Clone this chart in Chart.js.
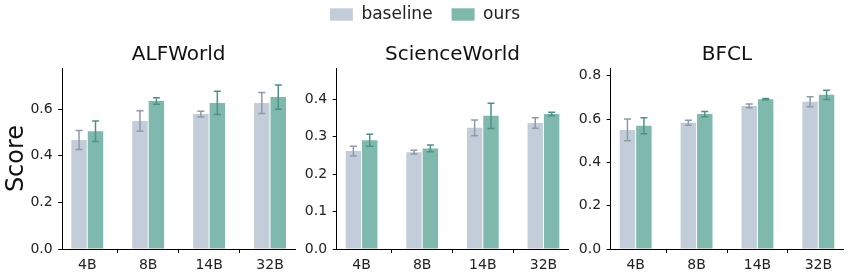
<!DOCTYPE html>
<html>
<head>
<meta charset="utf-8">
<script src="https://cdn.jsdelivr.net/npm/chart.js@4"></script>
<style>
  html, body { margin: 0; padding: 0; background: #ffffff; }
  #wrap { position: relative; width: 850px; height: 277px; overflow: hidden; background: #ffffff; }
  #wrap canvas { position: absolute; left: 0; top: 0; }
</style>
</head>
<body>
<div id="wrap">
  <canvas id="c1" width="850" height="277"></canvas>
  <canvas id="c2" width="850" height="277"></canvas>
  <canvas id="c3" width="850" height="277"></canvas>
  <canvas id="leg" width="850" height="120" style="top:-13px"></canvas>
</div>
<script>
// ---- data ----
const categories = ['4B', '8B', '14B', '32B'];
const seriesNames = ['baseline', 'ours'];
const panelTitles = ['ALFWorld', 'ScienceWorld', 'BFCL'];

const alfBaseline    = [0.468, 0.549, 0.579, 0.627];
const alfBaselineErr = [0.041, 0.044, 0.012, 0.045];
const alfOurs        = [0.506, 0.635, 0.627, 0.652];
const alfOursErr     = [0.044, 0.014, 0.050, 0.052];

const sciBaseline    = [0.262, 0.259, 0.324, 0.337];
const sciBaselineErr = [0.013, 0.005, 0.021, 0.014];
const sciOurs        = [0.291, 0.269, 0.356, 0.361];
const sciOursErr     = [0.016, 0.009, 0.034, 0.005];

const bfclBaseline    = [0.550, 0.583, 0.661, 0.680];
const bfclBaselineErr = [0.050, 0.012, 0.009, 0.023];
const bfclOurs        = [0.569, 0.623, 0.692, 0.712];
const bfclOursErr     = [0.037, 0.012, 0.003, 0.021];

const alfTicks  = [0.0, 0.2, 0.4, 0.6];
const sciTicks  = [0.0, 0.1, 0.2, 0.3, 0.4];
const bfclTicks = [0.0, 0.2, 0.4, 0.6, 0.8];

// ---- styling ----
const FONT = 'DejaVu Sans';
Chart.defaults.font.family = FONT;
Chart.defaults.color = '#222222';
const baseColor = '#c3cdd9';
const oursColor = '#7fb8ad';
const baseErrColor = '#8d9aab';
const oursErrColor = '#4d9385';

const errorBarPlugin = {
  id: 'errorBars',
  afterDatasetsDraw(chart) {
    const ctx = chart.ctx;
    const yScale = chart.scales.y;
    chart.data.datasets.forEach((ds, di) => {
      if (!ds.errors) return;
      const meta = chart.getDatasetMeta(di);
      ctx.save();
      ctx.strokeStyle = ds.errorColor;
      ctx.lineWidth = 1.5;
      meta.data.forEach((bar, i) => {
        const v = ds.data[i].y;
        const e = ds.errors[i];
        const yTop = yScale.getPixelForValue(v + e);
        const yBot = yScale.getPixelForValue(v - e);
        const x = bar.x;
        ctx.beginPath();
        ctx.moveTo(x, yTop); ctx.lineTo(x, yBot);
        ctx.moveTo(x - 3.5, yTop); ctx.lineTo(x + 3.5, yTop);
        ctx.moveTo(x - 3.5, yBot); ctx.lineTo(x + 3.5, yBot);
        ctx.stroke();
      });
      ctx.restore();
    });
  }
};

function toPoints(vals) { return vals.map((v, i) => ({ x: i, y: v })); }

function makePanel(id, title, base, baseErr, ours, oursErr, ymax, tickVals, left, right, showYTitle) {
  const yWidth = showYTitle ? left : 45;
  new Chart(document.getElementById(id), {
    type: 'bar',
    data: {
      datasets: [
        { label: seriesNames[0], data: toPoints(base), errors: baseErr, errorColor: baseErrColor,
          backgroundColor: baseColor, borderWidth: 0, categoryPercentage: 0.54, barPercentage: 0.94 },
        { label: seriesNames[1], data: toPoints(ours), errors: oursErr, errorColor: oursErrColor,
          backgroundColor: oursColor, borderWidth: 0, categoryPercentage: 0.54, barPercentage: 0.94 }
      ]
    },
    options: {
      responsive: false,
      animation: false,
      devicePixelRatio: 1,
      layout: { padding: { left: left - yWidth, right: 850 - right, top: 42.6, bottom: 0 } },
      plugins: {
        legend: { display: false },
        tooltip: { enabled: false },
        title: { display: false }
      },
      scales: {
        x: {
          type: 'linear',
          min: -0.41, max: 3.41,
          offset: false,
          afterBuildTicks: (s) => { s.ticks = categories.map((c, i) => ({ value: i })); },
          afterFit: (s) => { s.height = 28; },
          ticks: { callback: (v) => categories[v], font: { size: 14, family: FONT }, color: '#222222',
                   padding: 4, maxRotation: 0, autoSkip: false },
          grid: { display: true, drawOnChartArea: false, drawTicks: true, tickLength: 4, color: '#000000', lineWidth: 1 },
          border: { display: true, color: '#000000', width: 1 }
        },
        xTop: {
          type: 'linear',
          position: 'top',
          min: -0.41, max: 3.41,
          afterFit: (s) => { s.height = 25.4; },
          ticks: { display: false },
          grid: { display: false, drawTicks: false },
          border: { display: false },
          title: { display: true, text: title, color: '#111111',
                   font: { size: 20, weight: 'normal', family: FONT },
                   padding: { top: 0, bottom: 0 } }
        },
        y: {
          min: 0, max: ymax,
          afterBuildTicks: (s) => { s.ticks = tickVals.map(v => ({ value: v })); },
          afterFit: (s) => { s.width = yWidth; },
          ticks: { callback: (v) => Number(v).toFixed(1), font: { size: 14, family: FONT }, color: '#222222',
                   padding: 5.6 },
          grid: { display: true, drawOnChartArea: false, drawTicks: true, tickLength: 4, color: '#000000', lineWidth: 1 },
          border: { display: true, color: '#000000', width: 1 },
          title: { display: showYTitle, text: 'Score', color: '#111111',
                   font: { size: 24, family: FONT }, padding: { top: 2, bottom: 0 } }
        }
      }
    },
    plugins: [errorBarPlugin]
  });
}

makePanel('c1', panelTitles[0], alfBaseline, alfBaselineErr, alfOurs, alfOursErr, 0.777, alfTicks, 62.3, 295, true);
makePanel('c2', panelTitles[1], sciBaseline, sciBaselineErr, sciOurs, sciOursErr, 0.484, sciTicks, 336.7, 568.3, false);
makePanel('c3', panelTitles[2], bfclBaseline, bfclBaselineErr, bfclOurs, bfclOursErr, 0.836, bfclTicks, 610.7, 843.3, false);

// legend
new Chart(document.getElementById('leg'), {
  type: 'bar',
  data: {
    labels: [],
    datasets: [
      { label: seriesNames[0], data: [], backgroundColor: baseColor, borderWidth: 0 },
      { label: seriesNames[1], data: [], backgroundColor: oursColor, borderWidth: 0 }
    ]
  },
  options: {
    responsive: false,
    animation: false,
    devicePixelRatio: 1,
    layout: { padding: 0 },
    plugins: {
      legend: {
        display: true, position: 'top', align: 'center',
        labels: { boxWidth: 23, boxHeight: 12.4, padding: 19, color: '#222222',
                  font: { size: 17, family: FONT } }
      },
      tooltip: { enabled: false },
      title: { display: false }
    },
    scales: { x: { display: false }, y: { display: false } }
  }
});
</script>
</body>
</html>
